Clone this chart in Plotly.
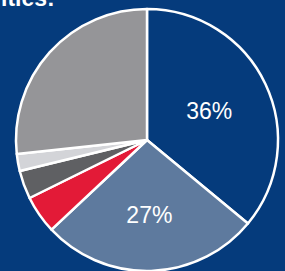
import plotly.graph_objects as go

categories = ["A", "B", "C", "D", "E", "F"]
values = [36, 27, 4.7, 3.5, 2.1, 26.7]
labels_shown = ["36%", "27%", "", "", "", ""]
colors = ["#053b7c", "#5e7a9e", "#e31a37", "#5f6063", "#d3d4d8", "#959598"]
bg = "#053b7c"

fig = go.Figure(go.Pie(
    labels=categories,
    values=values,
    text=labels_shown,
    textinfo="text",
    textposition="inside",
    insidetextorientation="horizontal",
    textfont=dict(family="Arial, Liberation Sans", size=23, color="white"),
    marker=dict(colors=colors, line=dict(color="white", width=2.5)),
    sort=False,
    direction="clockwise",
    rotation=0,
    showlegend=False,
    hoverinfo="skip",
    domain=dict(x=[15/285, 279/285], y=[0, 262/271]),
))

fig.add_annotation(
    text="<b>ities:</b>", x=-0.005, y=1 - 13/271, xref="paper", yref="paper",
    xanchor="left", yanchor="bottom", showarrow=False,
    font=dict(family="Arial, Liberation Sans", size=23, color="white"),
)

fig.update_layout(
    width=285, height=271,
    margin=dict(l=0, r=0, t=0, b=0),
    paper_bgcolor=bg, plot_bgcolor=bg,
)

fig.write_html(
    "out.html",
    config={"displayModeBar": False},
    post_script="document.body.style.margin='0';document.body.style.background='#053b7c';document.body.style.overflow='hidden';",
)
